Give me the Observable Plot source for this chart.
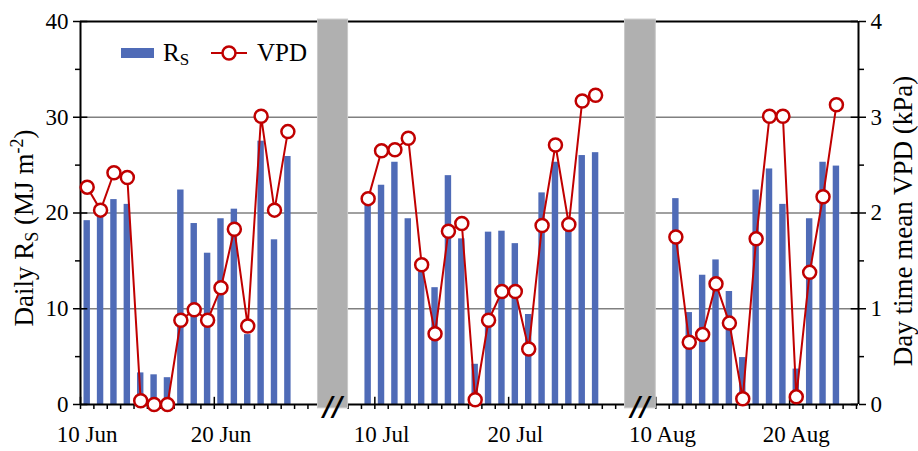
<!DOCTYPE html>
<html>
<head>
<meta charset="utf-8">
<script src="https://cdn.jsdelivr.net/npm/d3@7"></script>
<script src="https://cdn.jsdelivr.net/npm/@observablehq/plot@0.6"></script>
<style>
  body { margin: 0; background: #fff; }
  #chart { width: 918px; height: 451px; }
</style>
</head>
<body>
<div id="chart"></div>
<script>
// ---- data ----
const junDays = [10, 11, 12, 13, 14, 15, 16, 17, 18, 19, 20, 21, 22, 23, 24, 25];
const junRs   = [19.2, 20.3, 21.4, 20.9, 3.3, 3.1, 2.8, 22.4, 18.9, 15.8, 19.4, 20.4, 7.3, 27.5, 17.2, 25.9];
const junVpd  = [2.27, 2.03, 2.42, 2.37, 0.04, 0.0, 0.0, 0.88, 0.99, 0.88, 1.22, 1.83, 0.82, 3.01, 2.03, 2.85];

const julDays = [9, 10, 11, 12, 13, 14, 15, 16, 17, 18, 19, 20, 21, 22, 23, 24, 25, 26];
const julRs   = [21.1, 22.9, 25.3, 19.4, 13.8, 12.2, 23.9, 17.3, 4.2, 18.0, 18.1, 16.8, 9.4, 22.1, 25.3, 19.2, 26.0, 26.3];
const julVpd  = [2.15, 2.65, 2.66, 2.78, 1.46, 0.74, 1.81, 1.89, 0.05, 0.88, 1.18, 1.18, 0.58, 1.87, 2.71, 1.88, 3.17, 3.23];

const augDays = [11, 12, 13, 14, 15, 16, 17, 18, 19, 20, 21, 22, 23];
const augRs   = [21.5, 9.6, 13.5, 15.1, 11.8, 4.9, 22.4, 24.6, 20.9, 3.7, 19.4, 25.3, 24.9];
const augVpd  = [1.75, 0.65, 0.73, 1.26, 0.85, 0.06, 1.73, 3.01, 3.01, 0.08, 1.38, 2.17, 3.13];

// panels of the broken time axis
const months    = ["Jun", "Jul", "Aug"];
const axisFrom  = [10, 8, 10];          // first day shown in each panel
const axisTo    = [27.75, 28.7, 25.15]; // last day shown in each panel
const shift     = [-10, 12, 33];        // offset of each panel on the continuous axis
const labelDays = [10, 20];             // labelled days in each month

const rsTicks   = [0, 10, 20, 30, 40];
const rsMinor   = [5, 15, 25, 35];
const vpdFactor = 10;                   // 1 kPa on the right axis = 10 MJ m-2 on the left axis

// ---- derived tables ----
const panels = [[junDays, junRs, junVpd], [julDays, julRs, julVpd], [augDays, augRs, augVpd]];
const rows = [];
panels.forEach(([days, rs, vpd], k) => days.forEach((d, i) =>
  rows.push({seg: months[k], v: d + shift[k] + 0.5, rs: rs[i], vpd: vpd[i]})));

const xMax = axisTo[2] + shift[2];
const bands = [0, 1].map(k => ({x1: axisTo[k] + shift[k], x2: axisFrom[k + 1] + shift[k + 1]}));
const minorX = months.flatMap((m, k) =>
  d3.range(Math.ceil(axisFrom[k]), Math.floor(axisTo[k]) + 1).map(d => d + shift[k]));
const majorX = months.flatMap((m, k) => labelDays.map(d => d + shift[k]));
const labels = months.flatMap((m, k) => labelDays.map(d => ({v: d + shift[k] + 0.5, text: `${d} ${m}`})));
const labelMap = new Map(labels.map(l => [l.v, l.text]));

const red = "#c00000", blue = "#4f6bb7";

const plot = Plot.plot({
  width: 918, height: 451,
  marginLeft: 80, marginRight: 60, marginTop: 21, marginBottom: 47,
  x: {domain: [0, xMax]},
  y: {domain: [0, 40]},
  style: {fontFamily: "'Liberation Serif', 'Times New Roman', serif", fontSize: "23px", color: "black", background: "white"},
  marks: [
    Plot.ruleY([10, 20, 30], {stroke: "#808080", strokeWidth: 1.3}),
    Plot.rect(rows, {x1: d => d.v - 0.24, x2: d => d.v + 0.24, y1: 0, y2: "rs", fill: blue}),
    Plot.ruleY([0, 40], {stroke: "black", strokeWidth: 2}),
    Plot.ruleX([0, xMax], {stroke: "black", strokeWidth: 2}),
    // x ticks
    Plot.axisX({ticks: minorX, tickSize: 5, tickFormat: () => "", label: null, strokeWidth: 1.5}),
    Plot.ruleX(majorX, {y1: 0, y2: 0.75, stroke: "black", strokeWidth: 1.5}),
    Plot.axisX({ticks: labels.map(l => l.v), tickSize: 0, tickPadding: 21, tickFormat: d => labelMap.get(d), label: null}),
    // left axis
    Plot.axisY({anchor: "left", ticks: rsTicks, tickSize: 7, tickPadding: 5, label: null, strokeWidth: 1.5}),
    Plot.axisY({anchor: "left", ticks: rsMinor, tickSize: 5, tickFormat: () => "", label: null, strokeWidth: 1.5}),
    Plot.ruleY(rsTicks, {x1: 0, x2: 0.55, stroke: "black", strokeWidth: 1.5}),
    // right axis
    Plot.axisY({anchor: "right", ticks: rsTicks, tickFormat: d => d / vpdFactor, tickSize: 7, tickPadding: 5, label: null, strokeWidth: 1.5}),
    Plot.axisY({anchor: "right", ticks: rsMinor, tickSize: 5, tickFormat: () => "", label: null, strokeWidth: 1.5}),
    Plot.ruleY(rsTicks, {x1: xMax - 0.55, x2: xMax, stroke: "black", strokeWidth: 1.5}),
    // axis breaks
    Plot.rect(bands, {x1: "x1", x2: "x2", y1: -0.4, y2: 40.2, fill: "#b0b0b0", stroke: "#c9c9c9", strokeWidth: 1}),
    Plot.text(bands, {x: d => (d.x1 + d.x2) / 2, y: 0, text: () => "//", fontSize: 26, fontWeight: "bold",
      fontStyle: "italic", fontFamily: "DejaVu Sans", dy: 3, fill: "black"}),
    // VPD line
    Plot.line(rows, {x: "v", y: d => d.vpd * vpdFactor, z: "seg", stroke: red, strokeWidth: 2}),
    Plot.dot(rows, {x: "v", y: d => d.vpd * vpdFactor, r: 6.5, fill: "white", stroke: red, strokeWidth: 2.5})
  ]
});
document.getElementById("chart").appendChild(plot);

// ---- titles and legend ----
const svg = d3.select(plot);
const ff = "'Liberation Serif', 'Times New Roman', serif";

const lt = svg.append("text").attr("transform", "translate(33,228) rotate(-90)")
  .attr("text-anchor", "middle").attr("font-family", ff).attr("font-size", 27).attr("fill", "black");
lt.append("tspan").text("Daily R");
lt.append("tspan").text("S").attr("font-size", 18).attr("dy", 5);
lt.append("tspan").text(" (MJ m").attr("dy", -5);
lt.append("tspan").text("-2").attr("font-size", 18).attr("dy", -10);
lt.append("tspan").text(")").attr("dy", 10);

svg.append("text").attr("transform", "translate(912,221) rotate(-90)")
  .attr("text-anchor", "middle").attr("font-family", ff).attr("font-size", 27).attr("fill", "black")
  .text("Day time mean VPD (kPa)");

const lg = svg.append("g");
lg.append("rect").attr("x", 121).attr("y", 48).attr("width", 33).attr("height", 10).attr("fill", blue);
const lr = lg.append("text").attr("x", 163).attr("y", 61).attr("text-anchor", "start")
  .attr("font-family", ff).attr("font-size", 25).attr("fill", "black");
lr.append("tspan").text("R");
lr.append("tspan").text("S").attr("font-size", 17).attr("dy", 4);
lg.append("line").attr("x1", 211).attr("x2", 247).attr("y1", 53).attr("y2", 53).attr("stroke", red).attr("stroke-width", 2);
lg.append("circle").attr("cx", 229).attr("cy", 53).attr("r", 6.5).attr("fill", "white").attr("stroke", red).attr("stroke-width", 2.5);
lg.append("text").attr("x", 257).attr("y", 61).attr("text-anchor", "start")
  .attr("font-family", ff).attr("font-size", 25).attr("fill", "black").text("VPD");
</script>
</body>
</html>
